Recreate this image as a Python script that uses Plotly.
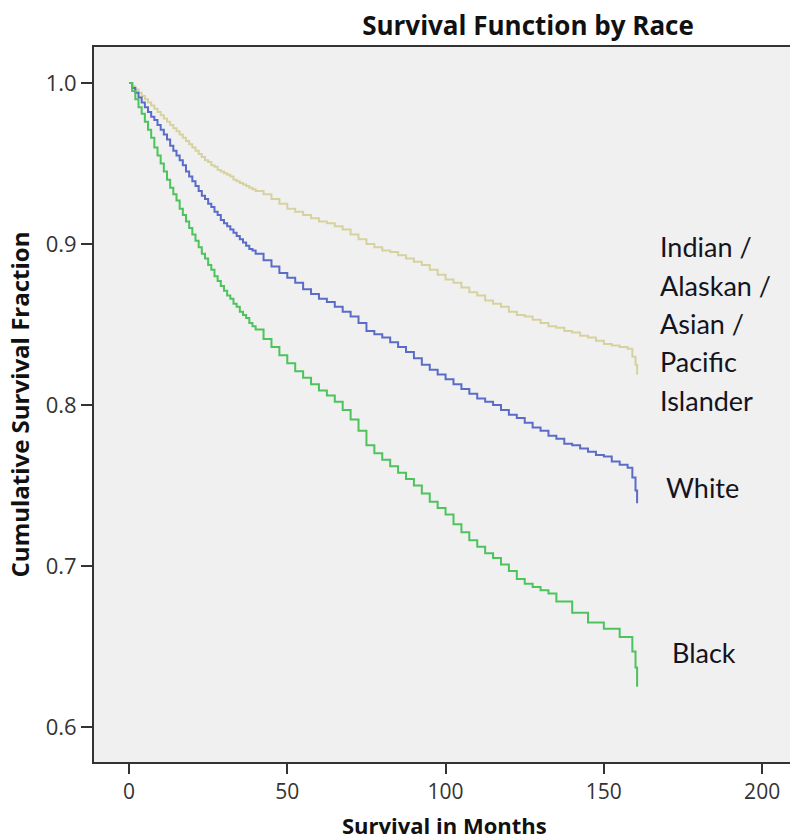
import plotly.graph_objects as go

# Data (months, cumulative survival)
months = [0, 1, 2, 3, 4, 5, 6, 7, 8, 9, 10, 11, 12, 13, 14, 15, 16, 17, 18, 19, 20,
          21, 22, 23, 24, 25, 26, 27, 28, 29, 30, 31, 32, 33, 34, 35, 36, 37, 38, 39, 40,
          42.5, 45, 47.5, 50, 52.5, 55, 57.5, 60, 62.5, 65, 67.5, 70, 72.5, 75, 77.5, 80,
          82.5, 85, 87.5, 90, 92.5, 95, 97.5, 100, 102.5, 105, 107.5, 110, 112.5, 115, 117.5,
          120, 122.5, 125, 127.5, 130, 132.5, 135, 137.5, 140, 142.5, 145, 147.5, 150, 152.5,
          155, 157.5, 159, 160, 160.5]

asian_pi = [1.0, 0.998, 0.996, 0.994, 0.992, 0.990, 0.988, 0.986, 0.984, 0.982, 0.980,
            0.978, 0.976, 0.974, 0.972, 0.970, 0.968, 0.966, 0.964, 0.962, 0.960,
            0.958, 0.956, 0.954, 0.952, 0.951, 0.949, 0.948, 0.946, 0.945, 0.944,
            0.943, 0.942, 0.940, 0.939, 0.938, 0.937, 0.936, 0.935, 0.934, 0.933,
            0.931, 0.928, 0.925, 0.922, 0.920, 0.918, 0.916, 0.914, 0.913, 0.911, 0.909,
            0.906, 0.903, 0.900, 0.898, 0.896, 0.895, 0.893, 0.891, 0.889, 0.887, 0.884,
            0.881, 0.878, 0.876, 0.873, 0.870, 0.868, 0.865, 0.863, 0.861, 0.858, 0.856,
            0.855, 0.853, 0.851, 0.849, 0.848, 0.846, 0.845, 0.843, 0.842, 0.840, 0.838,
            0.837, 0.836, 0.835, 0.830, 0.825, 0.819]

white = [1.0, 0.997, 0.994, 0.991, 0.988, 0.985, 0.982, 0.979, 0.977, 0.974, 0.971,
         0.968, 0.965, 0.961, 0.958, 0.955, 0.952, 0.949, 0.945, 0.942, 0.939,
         0.936, 0.933, 0.930, 0.928, 0.925, 0.923, 0.920, 0.918, 0.915, 0.913,
         0.911, 0.909, 0.907, 0.905, 0.903, 0.901, 0.899, 0.897, 0.896, 0.894,
         0.890, 0.886, 0.882, 0.879, 0.876, 0.872, 0.869, 0.866, 0.864, 0.861, 0.858,
         0.855, 0.851, 0.846, 0.844, 0.842, 0.839, 0.836, 0.833, 0.829, 0.825, 0.822,
         0.819, 0.816, 0.813, 0.810, 0.807, 0.804, 0.802, 0.800, 0.797, 0.794, 0.792,
         0.789, 0.786, 0.784, 0.781, 0.779, 0.776, 0.775, 0.773, 0.771, 0.769, 0.768,
         0.765, 0.763, 0.761, 0.755, 0.747, 0.739]

black = [1.0, 0.995, 0.990, 0.985, 0.981, 0.976, 0.971, 0.966, 0.960, 0.955, 0.950,
         0.945, 0.940, 0.935, 0.931, 0.927, 0.922, 0.918, 0.914, 0.910, 0.906,
         0.902, 0.898, 0.894, 0.891, 0.887, 0.884, 0.880, 0.877, 0.874, 0.871,
         0.868, 0.866, 0.863, 0.861, 0.858, 0.856, 0.854, 0.851, 0.849, 0.847,
         0.841, 0.836, 0.831, 0.826, 0.821, 0.817, 0.813, 0.809, 0.806, 0.802, 0.797,
         0.791, 0.784, 0.775, 0.770, 0.766, 0.762, 0.758, 0.754, 0.750, 0.745, 0.740,
         0.736, 0.732, 0.726, 0.721, 0.716, 0.712, 0.708, 0.705, 0.701, 0.697, 0.692,
         0.689, 0.687, 0.685, 0.683, 0.678, 0.678, 0.671, 0.671, 0.665, 0.665, 0.661,
         0.661, 0.656, 0.656, 0.647, 0.637, 0.625]

series_names = ["Indian / Alaskan / Asian / Pacific Islander", "White", "Black"]
series_values = [asian_pi, white, black]
series_colors = ["#d6d2a0", "#5a6cc8", "#4dc35c"]

x_ticks = [0, 50, 100, 150, 200]
y_ticks = [0.6, 0.7, 0.8, 0.9, 1.0]
y_tick_labels = ["0.6", "0.7", "0.8", "0.9", "1.0"]

W, H = 790, 840
L, R, T, B = 94, 0, 47, 78

fig = go.Figure()
for name, vals, col in zip(series_names, series_values, series_colors):
    fig.add_trace(go.Scatter(x=months, y=vals, mode="lines", line_shape="hv",
                             line=dict(color=col, width=2), name=name, showlegend=False))

def px_x(px):
    return (px - L) / (W - L - R)

def px_y(py):
    return (H - B - py) / (H - B - T)

label_font = dict(family="Lato", size=27, color="#141420")
labels = [("Indian /", 658, 247), ("Alaskan /", 658, 285), ("Asian /", 658, 323),
          ("Pacific", 658, 362), ("Islander", 658, 400), ("White", 664, 487), ("Black", 670, 652)]
for txt, lx, ly in labels:
    fig.add_annotation(text=txt, x=px_x(lx), y=px_y(ly), xref="paper", yref="paper",
                       xanchor="left", yanchor="middle", showarrow=False, font=label_font)

# x-axis title placed as annotation
fig.add_annotation(text="<b>Survival in Months</b>", x=px_x(444), y=px_y(825),
                   xref="paper", yref="paper", xanchor="center", yanchor="middle",
                   showarrow=False, font=dict(family="Open Sans", size=22, color="#111111"))

x_tick_font = dict(family="Open Sans", size=21, color="#333333")
y_tick_font = dict(family="Open Sans", size=22, color="#333333")
fig.update_layout(
    width=W, height=H,
    margin=dict(l=L, r=R, t=T, b=B),
    paper_bgcolor="white", plot_bgcolor="#f0f0f0",
    title=dict(text="<b>Survival Function by Race</b>", xref="container", yref="container",
               x=528 / W, y=1 - 26 / H, xanchor="center", yanchor="middle",
               font=dict(family="Open Sans", size=26, color="#111111")),
    xaxis=dict(range=[-11.06, 208.8], tickvals=x_ticks, ticks="outside", ticklen=10,
               tickwidth=2, tickcolor="#333333", showgrid=False, zeroline=False,
               showline=True, linecolor="#333333", linewidth=2, mirror=True,
               tickfont=x_tick_font),
    yaxis=dict(range=[0.5783, 1.0224], tickvals=y_ticks, ticktext=y_tick_labels,
               ticks="outside", ticklen=11, tickwidth=2, tickcolor="#333333",
               showgrid=False, zeroline=False, showline=True, linecolor="#333333",
               linewidth=2, tickfont=y_tick_font,
               title=dict(text="<b>Cumulative Survival Fraction</b>", standoff=9,
                          font=dict(family="Open Sans", size=24, color="#111111"))),
)

fig.write_html("out.html", post_script="document.body.style.margin='0px';",
               config={"displayModeBar": False})
